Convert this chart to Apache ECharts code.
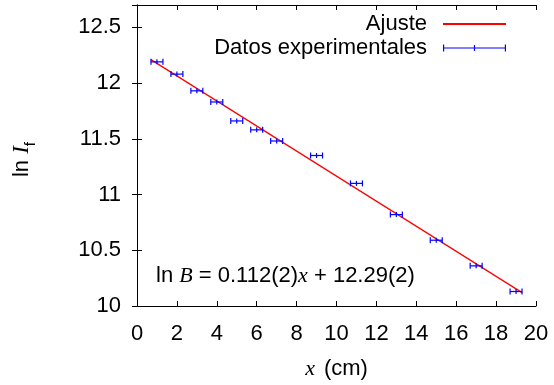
<!DOCTYPE html>
<html>
<head>
    <meta charset="UTF-8">
    <title>ln If vs x</title>
    <script src="https://cdn.jsdelivr.net/npm/echarts@6/dist/echarts.min.js"></script>
    <style>
        html, body { margin: 0; padding: 0; background: #fff; }
        #chart { width: 554px; height: 385px; }
    </style>
</head>
<body>
<div id="chart"></div>
<script>
    // datos
    var posX = [1, 2, 3, 4, 5, 6, 7, 9, 11, 13, 15, 17, 19];
    var lnIf = [12.19, 12.08, 11.93, 11.83, 11.66, 11.58, 11.48, 11.35, 11.10, 10.82, 10.59, 10.36, 10.13];
    var errX = [0.3, 0.3, 0.3, 0.3, 0.3, 0.3, 0.3, 0.3, 0.3, 0.3, 0.3, 0.3, 0.3];
    // recta de ajuste (extremos)
    var ajusteX = [0.7, 19.3];
    var ajusteY = [12.21, 10.12];

    var SANS = '"Liberation Sans", Arial, sans-serif';
    var SERIF = '"Liberation Serif", "Times New Roman", serif';
    var AZUL = '#0000ff', ROJO = '#ff0000';

    var puntos = [];
    for (var i = 0; i < posX.length; i++) {
        puntos.push([posX[i], lnIf[i], errX[i]]);
    }
    var ajuste = [];
    for (var j = 0; j < ajusteX.length; j++) {
        ajuste.push([ajusteX[j], ajusteY[j]]);
    }

    function barraError(params, api) {
        var x = api.value(0), y = api.value(1), e = api.value(2);
        var a = api.coord([x - e, y]);
        var b = api.coord([x + e, y]);
        var c = api.coord([x, y]);
        var st = { stroke: AZUL, lineWidth: 1.2 };
        var seg = function (x1, y1, x2, y2) {
            return { type: 'line', shape: { x1: x1, y1: y1, x2: x2, y2: y2 }, style: st };
        };
        return {
            type: 'group',
            children: [
                seg(a[0], a[1], b[0], b[1]),
                seg(a[0], a[1] - 3, a[0], a[1] + 3),
                seg(b[0], b[1] - 3, b[0], b[1] + 3),
                seg(c[0], c[1] - 2.5, c[0], c[1] + 2.5)
            ]
        };
    }

    var ejeBase = {
        type: 'value',
        axisLine: { show: true, lineStyle: { color: '#000', width: 1 } },
        axisTick: { show: true, inside: true, length: 5, lineStyle: { color: '#000' } },
        splitLine: { show: false },
        axisLabel: { color: '#000', fontSize: 22, fontFamily: SANS }
    };
    function eje(extra) {
        return Object.assign({}, JSON.parse(JSON.stringify(ejeBase)), extra);
    }

    var iconoError = 'path://M0,4.5H64V5.5H0Z M0,1.5H1.2V8.5H0Z M62.8,1.5H64V8.5H62.8Z M31.4,2H32.6V8H31.4Z';

    var chart = echarts.init(document.getElementById('chart'));
    var option = {
        backgroundColor: '#fff',
        animation: false,
        grid: { left: 137, right: 18, top: 5, bottom: 78 },
        xAxis: [
            eje({ position: 'bottom', min: 0, max: 20, interval: 2,
                axisLabel: { color: '#000', fontSize: 22, fontFamily: SANS, margin: 17 },
                name: '{i|x}{g| }{n|(cm)}', nameLocation: 'middle', nameGap: 52,
                nameTextStyle: { rich: {
                    i: { fontFamily: SERIF, fontStyle: 'italic', fontSize: 22, color: '#000' },
                    g: { fontSize: 22, width: 9 },
                    n: { fontFamily: SANS, fontSize: 22, color: '#000' }
                } } }),
            eje({ position: 'top', min: 0, max: 20, interval: 2, axisLabel: { show: false } })
        ],
        yAxis: [
            eje({ position: 'left', min: 10, max: 12.7, interval: 0.5,
                axisLabel: { color: '#000', fontSize: 22, fontFamily: SANS, margin: 16, showMaxLabel: false },
                name: '{n|ln }{i|I}{s|f}', nameLocation: 'middle', nameGap: 104, nameRotate: 90,
                nameTextStyle: { padding: [0, 8, 0, 0], rich: {
                    n: { fontFamily: SANS, fontSize: 22, color: '#000', lineHeight: 26, verticalAlign: 'bottom' },
                    i: { fontFamily: SERIF, fontStyle: 'italic', fontSize: 23, color: '#000', lineHeight: 26, verticalAlign: 'bottom' },
                    s: { fontFamily: SANS, fontSize: 15, color: '#000', lineHeight: 16, verticalAlign: 'bottom', padding: [0, 0, -5, 0] }
                } } }),
            eje({ position: 'right', min: 10, max: 12.7, interval: 0.5, axisLabel: { show: false } })
        ],
        legend: {
            orient: 'vertical',
            align: 'right',
            right: 47,
            top: 13,
            padding: 0,
            itemGap: 2,
            itemWidth: 63,
            itemHeight: 7,
            textStyle: { color: '#000', fontSize: 22, fontFamily: SANS, lineHeight: 22, padding: [0, 11, 0, 0] },
            data: [
                { name: 'Ajuste', itemStyle: { opacity: 0 }, lineStyle: { opacity: 1 } },
                { name: 'Datos experimentales', icon: iconoError, itemStyle: { color: AZUL } }
            ]
        },
        graphic: [{
            type: 'text',
            left: 156,
            top: 265,
            style: {
                text: '{n|ln }{i|B}{n| = 0.112(2)}{i|x}{n| + 12.29(2)}',
                rich: {
                    n: { fontFamily: SANS, fontSize: 22, fill: '#000' },
                    i: { fontFamily: SERIF, fontStyle: 'italic', fontSize: 22, fill: '#000' }
                }
            }
        }],
        series: [
            {
                name: 'Ajuste',
                type: 'line',
                data: ajuste,
                symbol: 'none',
                lineStyle: { color: ROJO, width: 1.2 },
                itemStyle: { color: ROJO },
                z: 2
            },
            {
                name: 'Datos experimentales',
                type: 'custom',
                data: puntos,
                renderItem: barraError,
                itemStyle: { color: AZUL },
                encode: { x: 0, y: 1 },
                z: 3
            }
        ]
    };
    chart.setOption(option);
</script>
</body>
</html>
